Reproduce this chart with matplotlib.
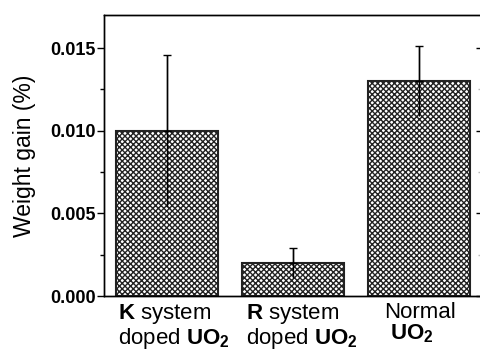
import numpy as np
import matplotlib.pyplot as plt
from matplotlib.transforms import ScaledTranslation

plt.rcParams['font.family'] = ['Liberation Sans', 'DejaVu Sans']
plt.rcParams['mathtext.fontset'] = 'custom'
plt.rcParams['mathtext.rm'] = 'Liberation Sans'
plt.rcParams['mathtext.bf'] = 'Liberation Sans:bold'
plt.rcParams['hatch.linewidth'] = 1.0

# Data
labels = [r'$\mathbf{K}$ system' + '\n' + r'doped $\mathbf{UO_2}$',
          r'$\mathbf{R}$ system' + '\n' + r'doped $\mathbf{UO_2}$',
          'Normal\n ' + r'$\mathbf{UO_2}$']
weight_gain = [0.0100, 0.0020, 0.0130]
errors = [0.0046, 0.0009, 0.0021]

fig = plt.figure(figsize=(4.8, 3.56), dpi=100)
ax = fig.add_axes([0.2167, 0.1685, 0.7875, 0.7894])

x = np.arange(len(weight_gain))
ax.bar(x, weight_gain, width=0.81, color='white', edgecolor='#222222',
       linewidth=1.5, hatch='xxxxxx')

# full error bars without caps, then the upper caps only
ax.errorbar(x, weight_gain, yerr=[errors, errors], fmt='none',
            ecolor='black', elinewidth=1.0, capsize=0)
ax.errorbar(x, weight_gain, yerr=[np.zeros(3), errors], fmt='none',
            ecolor='black', elinewidth=1.0, capsize=3, capthick=1.0)

ax.set_xlim(-0.5, 2.5)
ax.set_ylim(0, 0.017)
major = [0.000, 0.005, 0.010, 0.015]
minor = [0.0025, 0.0075, 0.0125]
ax.set_yticks(major)
ax.set_yticks(minor, minor=True)
ax.set_yticklabels(['0.000', '0.005', '0.010', '0.015'], fontweight='bold', fontsize=13)
ax.tick_params(axis='y', which='major', direction='out', length=5, width=1, right=False, pad=1)
ax.tick_params(axis='y', which='minor', direction='out', length=3, width=1, right=False)

# inward ticks on the right side
ax2 = ax.twinx()
ax2.set_ylim(ax.get_ylim())
ax2.set_yticks(major)
ax2.set_yticks(minor, minor=True)
ax2.tick_params(axis='y', which='major', direction='in', length=4, width=1, labelright=False)
ax2.tick_params(axis='y', which='minor', direction='in', length=3, width=1, color='#bbbbbb')

ax.set_xticks(x)
ax.set_xticklabels(labels, fontsize=16, multialignment='left', linespacing=1.0)
ax.tick_params(axis='x', length=0, pad=4)
for lbl, dx in zip(ax.get_xticklabels(), [7, 9, 1]):
    lbl.set_transform(lbl.get_transform() + ScaledTranslation(dx / 100, 0, fig.dpi_scale_trans))

ax.set_ylabel('Weight gain (%)', fontsize=16.5, labelpad=10)

for a in (ax, ax2):
    for s in a.spines.values():
        s.set_linewidth(1.0)

fig.savefig('out.png', dpi=100)
